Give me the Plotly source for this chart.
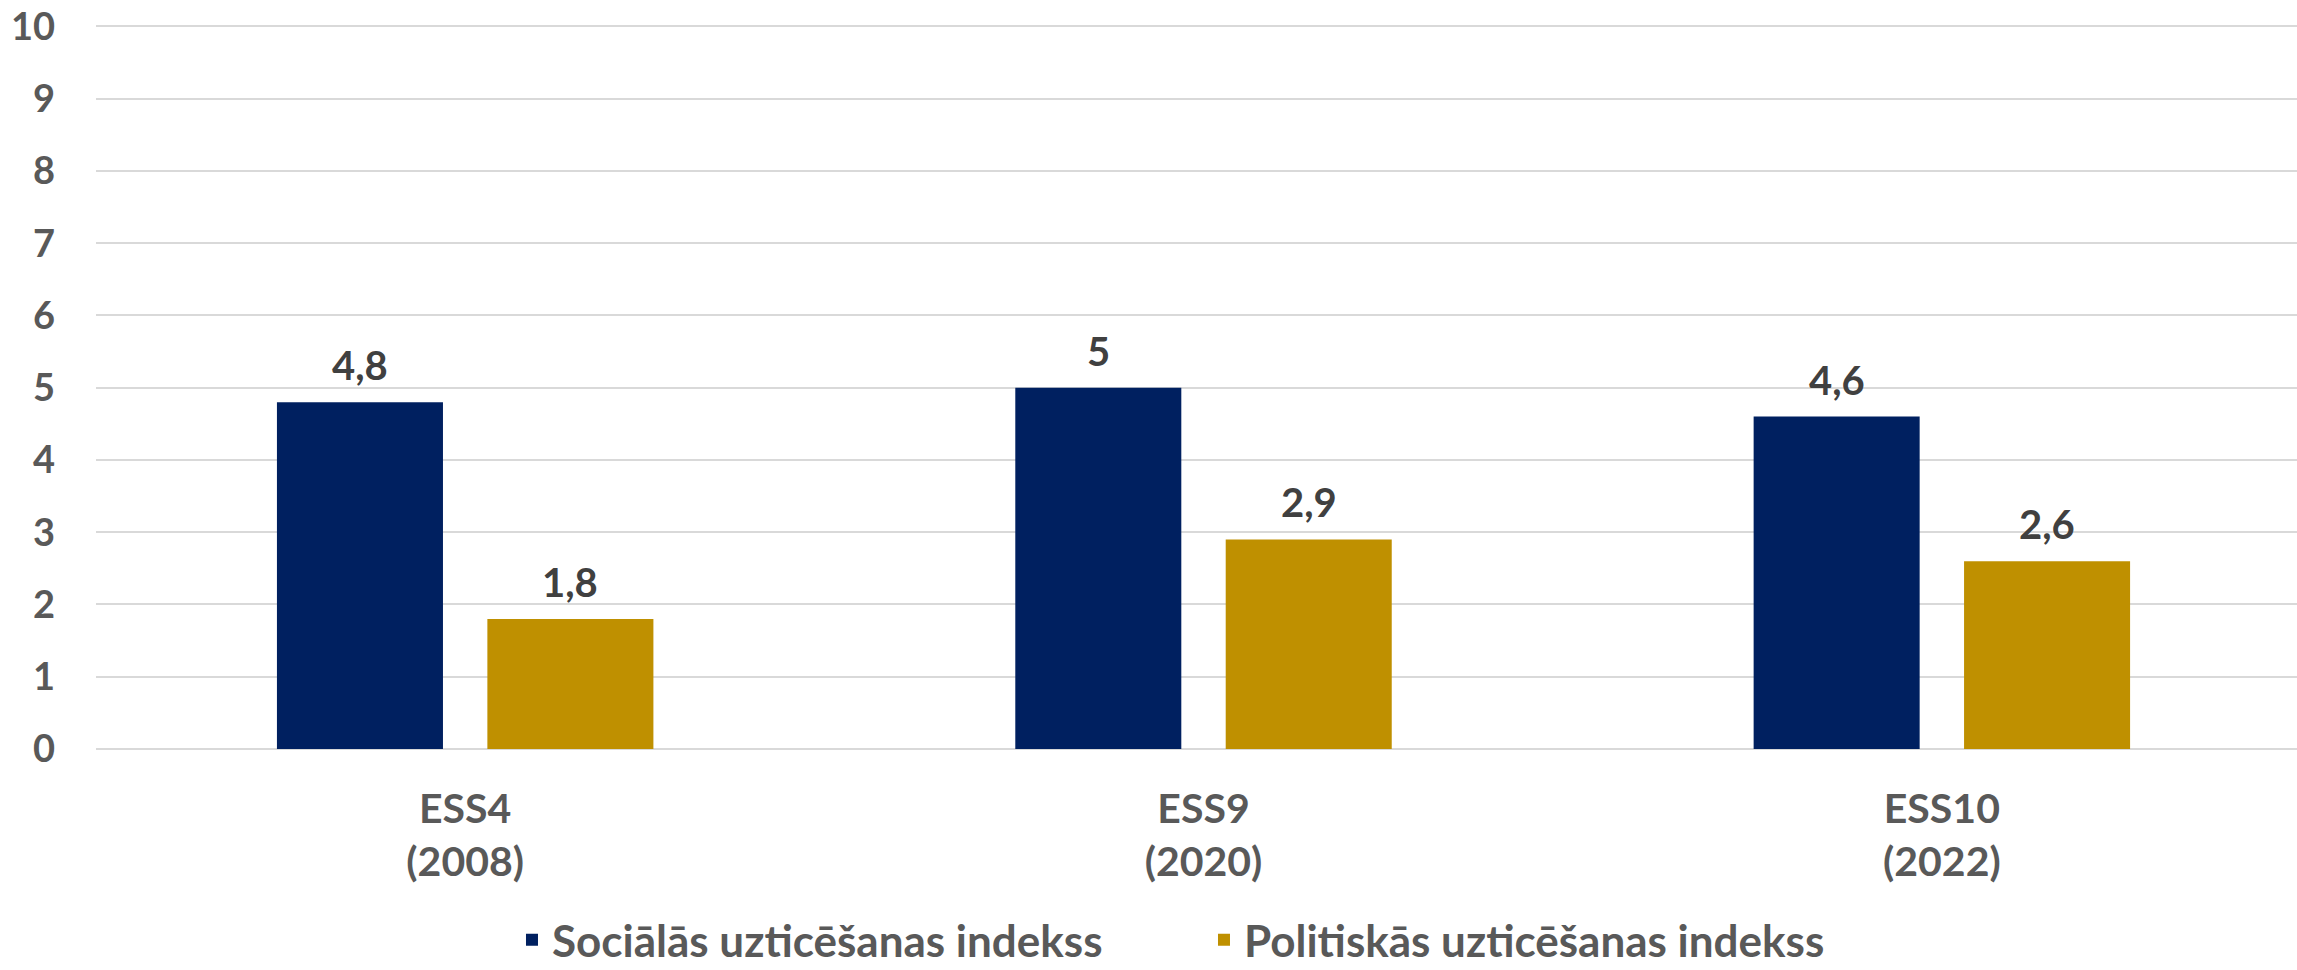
import plotly.graph_objects as go

categories = ["ESS4<br>(2008)", "ESS9<br>(2020)", "ESS10<br>(2022)"]
social = [4.8, 5.0, 4.6]
political = [1.8, 2.9, 2.6]
series_names = ["Sociālās uzticēšanas indekss", "Politiskās uzticēšanas indekss"]
value_labels_social = ["4,8", "5", "4,6"]
value_labels_political = ["1,8", "2,9", "2,6"]
y_ticks = list(range(0, 11))

BLUE = "#002060"
GOLD = "#BF9000"
FONT = "Lato"

fig = go.Figure()
fig.add_trace(go.Bar(x=categories, y=social, name=series_names[0],
                     marker=dict(color=BLUE, line=dict(width=0))))
fig.add_trace(go.Bar(x=categories, y=political, name=series_names[1],
                     marker=dict(color=GOLD, line=dict(width=0))))

# data labels above bars
for cat, v, t in zip(categories, social, value_labels_social):
    fig.add_annotation(x=cat, y=v, text=t, showarrow=False, xshift=-105, yshift=37,
                       yanchor="middle", font=dict(family=FONT, size=40, color="#404040", weight=700))
for cat, v, t in zip(categories, political, value_labels_political):
    fig.add_annotation(x=cat, y=v, text=t, showarrow=False, xshift=105, yshift=37,
                       yanchor="middle", font=dict(family=FONT, size=40, color="#404040", weight=700))

fig.update_layout(
    width=2297, height=970,
    margin=dict(l=96, r=0, t=25, b=221, pad=0, autoexpand=False),
    paper_bgcolor="white", plot_bgcolor="white",
    barmode="group", bargap=0.43, bargroupgap=0.211,
    font=dict(family=FONT, color="#595959"),
    showlegend=True,
    legend=dict(orientation="h", x=0.189, xanchor="left", y=-0.264, yanchor="middle",
                font=dict(family=FONT, size=44, color="#595959", weight=700),
                entrywidth=647, entrywidthmode="pixels",
                traceorder="normal", itemsizing="constant"),
    xaxis=dict(range=[-0.5, 2.481], showgrid=False, showline=False, ticks="",
               tickfont=dict(family=FONT, size=41, color="#595959", weight=700),
               ticklabelstandoff=32),
    yaxis=dict(range=[0, 10.02], tickvals=y_ticks, showgrid=True, gridcolor="#D9D9D9", gridwidth=2,
               zeroline=True, zerolinecolor="#D9D9D9", zerolinewidth=2, showline=False, ticks="",
               tickfont=dict(family=FONT, size=38, color="#595959", weight=700),
               ticklabelstandoff=40),
)

fig.write_html("out.html", config={"displayModeBar": False},
               post_script="document.body.style.margin='0';document.body.style.overflow='hidden';")
